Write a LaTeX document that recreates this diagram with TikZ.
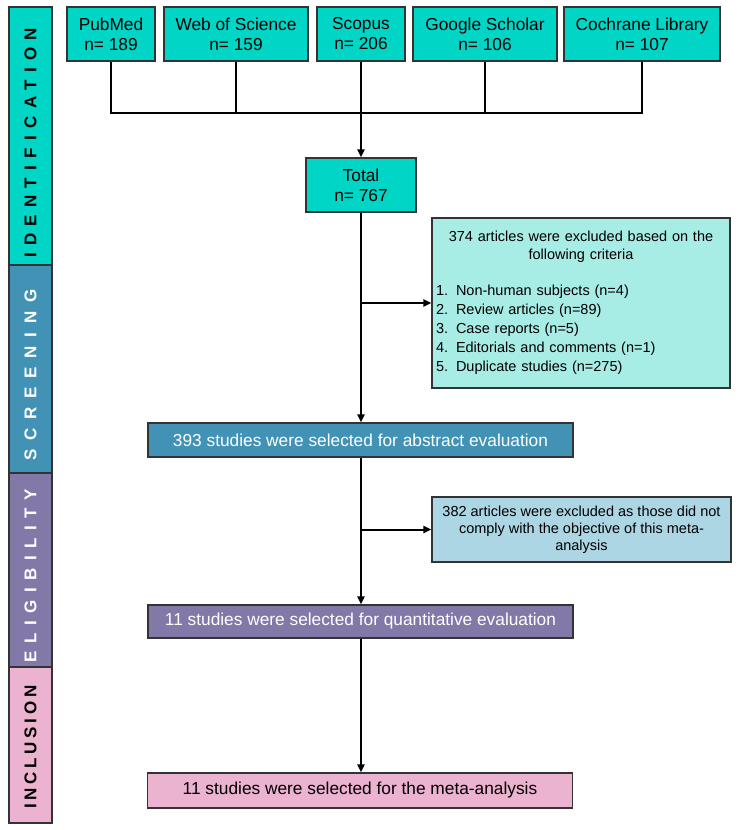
\documentclass[tikz,border=0pt]{standalone}
\usepackage{fontspec}
\setmainfont{Liberation Sans}
\usetikzlibrary{arrows.meta}
\definecolor{identcol}{HTML}{00D5C6}
\definecolor{excloneol}{HTML}{A8ECE6}
\definecolor{screencol}{HTML}{4192B4}
\definecolor{excltwocol}{HTML}{ADD6E4}
\definecolor{eligcol}{HTML}{8279A9}
\definecolor{inclcol}{HTML}{EBB3CF}
\definecolor{rim}{HTML}{333333}
\begin{document}
\begin{tikzpicture}[x=1pt,y=-1pt]
            \tikzset{box/.style = {draw=rim, line width=1.2pt, inner sep=2pt, align=center,
                                   font=\fontsize{17.3}{20}\selectfont}}
            \tikzset{source/.style = {box, fill=identcol, minimum height=54pt}}
            \tikzset{stage/.style = {box, minimum width=425pt, minimum height=34pt}}
            \tikzset{exclbox/.style = {box, font=\fontsize{14.5}{17}\selectfont}}
            \tikzset{band/.style = {draw=rim, line width=1.2pt, minimum width=43pt, inner sep=0pt,
                                    font=\bfseries\fontsize{17}{17}\selectfont}}
            \tikzset{line/.style = {line width=2pt}}
            \tikzset{edge/.style = {line, -{Triangle[length=8pt,width=7pt]}}}
            \useasboundingbox (0,0) rectangle (739,830);
            % phase bands on the left
            \node[band, fill=identcol, minimum height=258pt] (ident) at (30.5,136)
                 {\rotatebox{90}{\addfontfeature{LetterSpace=43}IDENTIFICATION\hspace{14pt}}};
            \node[band, fill=screencol, text=white, minimum height=208pt] (screen) at (30.5,369)
                 {\rotatebox{90}{\addfontfeature{LetterSpace=52}SCREENING\hspace{12pt}}};
            \node[band, fill=eligcol, text=white, minimum height=194pt] (elig) at (30.5,570)
                 {\rotatebox{90}{\addfontfeature{LetterSpace=44}ELIGIBILITY\hspace{12pt}}};
            \node[band, fill=inclcol, minimum height=156pt] (incl) at (30.5,745)
                 {\rotatebox{90}{\addfontfeature{LetterSpace=22}INCLUSION\hspace{4pt}}};
            % databases
            \node[source, minimum width=88pt] (pubmed) at (111,34) {PubMed\\n= 189};
            \node[source, minimum width=144pt] (wos) at (236,34) {Web of Science\\n= 159};
            \node[source, minimum width=88pt] (scopus) at (361,34) {Scopus\\n= 206};
            \node[source, minimum width=144pt] (google) at (485,34) {Google Scholar\\n= 106};
            \node[source, minimum width=156pt] (cochrane) at (642,34) {Cochrane Library\\n= 107};
            \node[source, minimum width=110pt] (total) at (361,185) {Total\\n= 767};
            % stages
            \node[stage, fill=screencol, text=white] (abstract) at (360.5,440)
                 {393 studies were selected for abstract evaluation};
            \node[stage, fill=eligcol, text=white, minimum height=33pt] (quant) at (360.5,621.5)
                 {11 studies were selected for quantitative evaluation};
            \node[stage, fill=inclcol, minimum height=35pt] (meta) at (360,790.5)
                 {11 studies were selected for the meta-analysis};
            % exclusions
            \node[exclbox, fill=excloneol, minimum width=298pt, minimum height=170pt,
                  text width=290pt, align=left, inner sep=4pt] (exclone) at (581,303)
                 {{\centering 374 articles were excluded based on the\\[1pt] following criteria\par}
                  \vspace{19pt}
                  \makebox[20pt][l]{1.}Non-human subjects (n=4)\\[2pt]
                  \makebox[20pt][l]{2.}Review articles (n=89)\\[2pt]
                  \makebox[20pt][l]{3.}Case reports (n=5)\\[2pt]
                  \makebox[20pt][l]{4.}Editorials and comments (n=1)\\[2pt]
                  \makebox[20pt][l]{5.}Duplicate studies (n=275)};
            \node[exclbox, fill=excltwocol, minimum width=299pt, minimum height=65pt] (excltwo) at (581.5,529.5)
                 {382 articles were excluded as those did not\\ comply with the objective of this meta-\\ analysis};
            % connectors
            \coordinate (join) at (361,113);
            \draw[line] (pubmed.south) |- (join);
            \draw[line] (cochrane.south) |- (join);
            \draw[line] (wos.south) -- (wos.south |- join);
            \draw[line] (google.south) -- (google.south |- join);
            \draw[edge] (scopus) -- (total);
            \draw[edge] (total.south) -- (total.south |- abstract.north);
            \draw[edge] (total.south |- exclone.west) -- (exclone.west);
            \draw[edge] (total.south |- abstract.south) -- (total.south |- quant.north);
            \draw[edge] (total.south |- excltwo.west) -- (excltwo.west);
            \draw[edge] (total.south |- quant.south) -- (total.south |- meta.north);
\end{tikzpicture}
\end{document}
